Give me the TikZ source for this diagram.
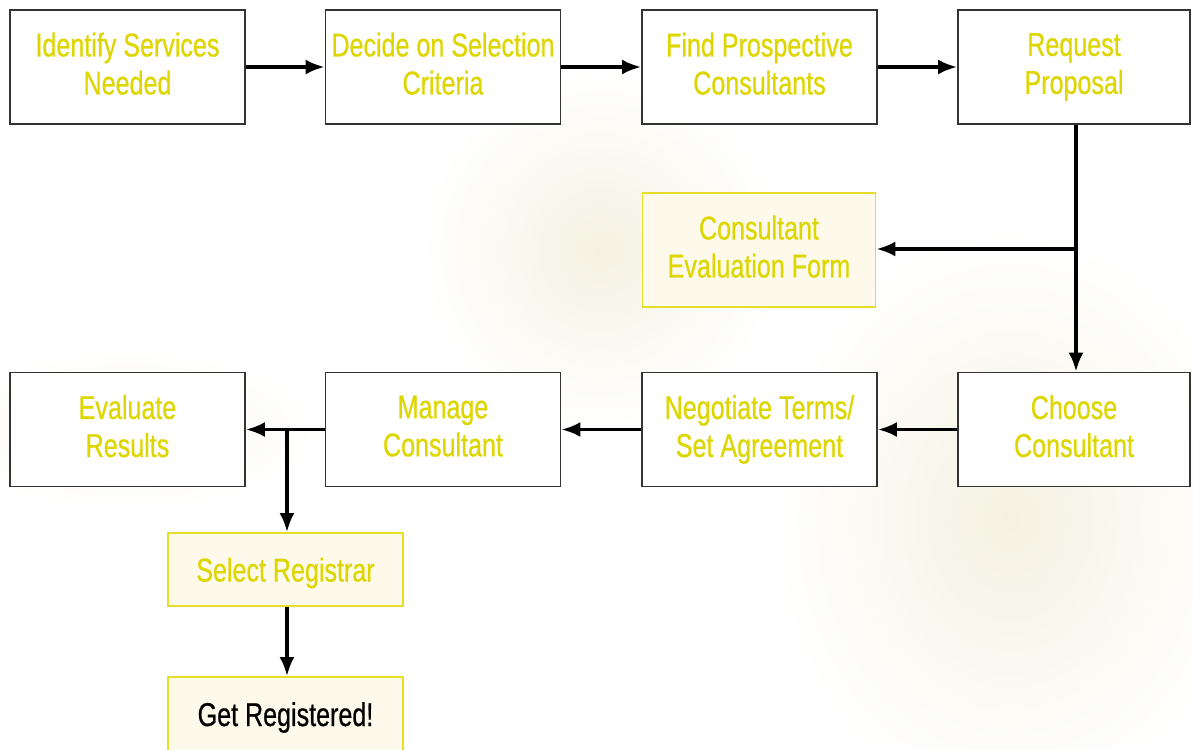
\documentclass[tikz,border=0pt]{standalone}
\usepackage{fontspec}
\setmainfont{Liberation Sans}[FakeStretch=0.76,FakeBold=0.6]
\usetikzlibrary{arrows.meta}
\definecolor{txtyellow}{RGB}{222,214,0}
\definecolor{boxyellow}{RGB}{230,222,40}
\definecolor{cream}{RGB}{253,250,236}
\definecolor{bgA}{RGB}{245,242,226}
\tikzset{
  stepbox/.style={draw=black!80, line width=1.8pt, fill=white, minimum width=235pt, minimum height=114pt,
    align=center, text=txtyellow, font=\fontsize{33}{38}\selectfont, inner sep=0pt,
    execute at begin node={\rule{0pt}{31pt}}, execute at end node={\rule[-7pt]{0pt}{1pt}}},
  sidebox/.style={stepbox, draw=boxyellow, fill=cream, minimum width=233pt},
  flow/.style={line width=3.4pt, -{Latex[length=19pt,width=15pt]}},
}
\begin{document}
\begin{tikzpicture}[x=1pt,y=-1pt]
\useasboundingbox (0,0) rectangle (1193,749);
\fill[white] (0,0) rectangle (1193,749);
% faint background watermark
\shade[inner color=bgA, outer color=white] (600,250) ellipse (180 and 180);
\shade[inner color=bgA, outer color=white] (1010,520) ellipse (240 and 290);
\shade[inner color=bgA!70!white, outer color=white] (130,430) ellipse (190 and 80);
% top row
\node[stepbox] (n1) at (127.5,67) {Identify Services\\Needed};
\node[stepbox] (n2) at (443,67) {Decide on Selection\\Criteria};
\node[stepbox] (n3) at (759.5,67) {Find Prospective\\Consultants};
\node[stepbox, minimum width=232pt] (n4) at (1074,67) {Request\\Proposal};
% side form
\node[sidebox] (form) at (759,250) {Consultant\\Evaluation Form};
% bottom row
\node[stepbox] (b1) at (127.5,429.5) {Evaluate\\Results};
\node[stepbox] (b2) at (443,429.5) {Manage\\Consultant};
\node[stepbox] (b3) at (759.5,429.5) {Negotiate Terms/\\Set Agreement};
\node[stepbox, minimum width=232pt] (b4) at (1074,429.5) {Choose\\Consultant};
% registrar
\node[sidebox, minimum width=235pt, minimum height=73pt] (reg) at (285.5,569.5) {Select Registrar};
\node[sidebox, minimum width=235pt, minimum height=74pt, text=black] (get) at (285.5,714) {Get Registered!};
\coordinate (split1) at (1076,249);
\coordinate (split2) at (287,429.5);
% connectors
\draw[flow] (n1.east) -- (n2.west);
\draw[flow] (n2.east) -- (n3.west);
\draw[flow] (n3.east) -- (n4.west);
\draw[flow] (n4.south -| split1) -- (b4.north -| split1);
\draw[flow] (split1) -- (form.east |- split1);
\draw[flow] (b4.west) -- (b3.east);
\draw[flow] (b3.west) -- (b2.east);
\draw[flow] (b2.west) -- (b1.east);
\draw[flow] (split2) -- (reg.north -| split2);
\draw[flow] (reg.south -| split2) -- (get.north -| split2);
\end{tikzpicture}
\end{document}
